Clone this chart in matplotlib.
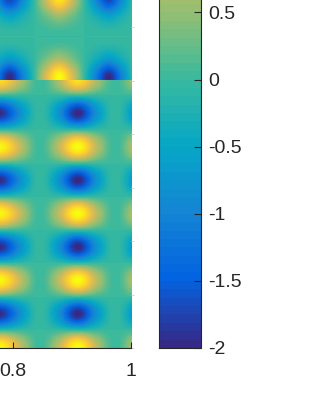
#!/usr/bin/env python
import numpy as np
import matplotlib
matplotlib.use('Agg')
import matplotlib.pyplot as plot
from matplotlib.colors import LinearSegmentedColormap
from matplotlib.patches import Rectangle

# sample positions and values
split_y = 1.0
x_top = [0.7525, 0.7737, 0.7949, 0.8153, 0.8356, 0.856, 0.8763, 0.8975, 0.9186,
	0.9398, 0.961, 0.9814, 1.0017, 1.0229, 1.044]
y_top = [0.9346, 1.0093, 1.0841, 1.1589, 1.2336, 1.3084, 1.3832]
row_top = [0.6, 2.0, 0.6, 0.0, 0.5, 1.8, 0.6]
x_shape_top = [0, -0.55, -1, -0.55, 0, 0.55, 1, 0.55, 0, -0.55, -1, -0.55, 0, 0.55, 1]
z_top = [[r * s for s in x_shape_top] for r in row_top]

x_low = [0.7814, 0.8136, 0.8458, 0.8771, 0.9085, 0.9407, 0.9729, 1.0042, 1.0356]
y_low = [-0.12, 0.0, 0.125, 0.25, 0.375, 0.5, 0.625, 0.75, 0.875, 1.0, 1.125]
peaks = [-1.6, 2.0, -2.0, 2.0, -2.0, 2.0, -2.0, 2.0, -2.0, 1.7, -1.0]
x_shape = [0.95, 0.4, 0.0, 0.4, 1.0, 0.4, 0.0, 0.4, 0.95]
z_low = [[p * s for s in x_shape] for p in peaks]

cbar_ticks = [-2, -1.5, -1, -0.5, 0, 0.5]
cbar_labels = ['-2', '-1.5', '-1', '-0.5', '0', '0.5']
x_ticks = [0.8, 1.0]
x_labels = ['0.8', '1']
y_ticks = [0.0, 0.2, 0.4, 0.6, 0.8, 1.0, 1.2]

parula_colors = ['#352a87', '#0363e1', '#1485d4', '#06a7c6', '#38b99e',
	'#92bf73', '#d9ba56', '#fcce2e', '#f9fb0e']


def edges(v):
	step = (v[-1] - v[0]) / (len(v) - 1)
	return v[0] - step / 2, v[-1] + step / 2


plot.rcParams['font.family'] = ['Liberation Sans', 'DejaVu Sans']
text_color = '#262626'

fig = plot.figure()
fig.set_size_inches(3.15, 4.2)
fig.set_dpi(100)

w = 315.0
h = 420.0
# the axes run off the left and top of the picture
ax = fig.add_axes([0, (420 - 348) / h, 131 / w, 348 / h])
cmap = LinearSegmentedColormap.from_list('parula', parula_colors, N=64)

low = ax.imshow(np.array(z_low), extent=edges(x_low) + edges(y_low), origin='lower',
	cmap=cmap, vmin=-2, vmax=2, interpolation='catrom', interpolation_stage='data', aspect='auto')
top = ax.imshow(np.array(z_top), extent=edges(x_top) + edges(y_top), origin='lower',
	cmap=cmap, vmin=-2, vmax=2, interpolation='catrom', interpolation_stage='data', aspect='auto')

ax.set_xlim(1 - 131 / 590.0, 1)
ax.set_ylim(0, 348 / 267.5)
# small overlap so no white seam shows at the split
low.set_clip_path(Rectangle((0, 0), 1, split_y + 0.004, transform=ax.transData))
top.set_clip_path(Rectangle((0, split_y), 1, 2, transform=ax.transData))

for side in ['left', 'top', 'right']:
	ax.spines[side].set_visible(False)
ax.spines['bottom'].set_color(text_color)
ax.set_xticks(x_ticks)
ax.set_xticklabels(x_labels)
ax.tick_params(axis='x', direction='in', length=4, width=0.8, color=text_color,
	labelcolor=text_color, labelsize=14, pad=11)
ax.yaxis.tick_right()
ax.set_yticks(y_ticks)
ax.tick_params(axis='y', direction='out', length=2, width=0.6, color='#d0d0d0', labelright=False)

cax = fig.add_axes([159 / w, (420 - 348) / h, 42 / w, 537 / h])
cbar = fig.colorbar(low, cax=cax, ticks=cbar_ticks)
cbar.set_ticklabels(cbar_labels)
cbar.outline.set_edgecolor(text_color)
cbar.outline.set_linewidth(0.8)
cax.tick_params(direction='in', length=5, width=0.8, color=text_color,
	labelcolor=text_color, labelsize=14, pad=5)

fig.savefig('out.png', dpi=100)
plot.close()
